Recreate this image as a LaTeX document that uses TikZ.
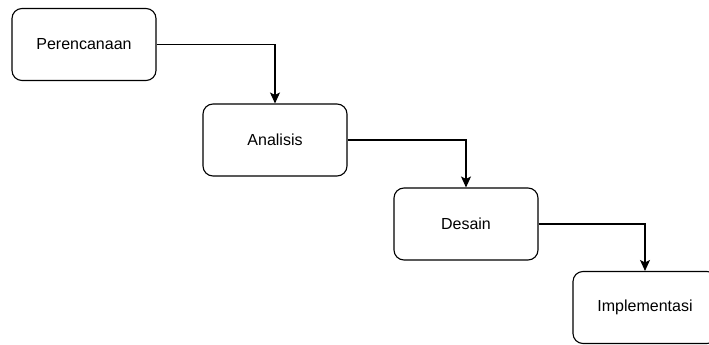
\documentclass[tikz,border=0pt]{standalone}
\usepackage{fontspec}
\setmainfont{Liberation Sans}
\usetikzlibrary{arrows.meta}

\begin{document}
\begin{tikzpicture}[x=1pt, y=-1pt,
    stage/.style={draw, line width=1.1pt, rounded corners=10pt,
      minimum width=144pt, minimum height=72pt,
      font=\fontsize{16}{19}\selectfont},
    flow/.style={draw, line width=1.1pt, -{Stealth[length=11pt, width=10pt, inset=2.5pt]}}]
        \clip (0, 0) rectangle (709, 345);
        \node[stage] (plan) at (84, 44.5) {Perencanaan};
        \node[stage] (anal) at (275, 140) {Analisis};
        \node[stage] (desn) at (466, 224) {Desain};
        \node[stage] (impl) at (645, 307.5) {Implementasi};
        % alur air terjun
        \draw [flow] (plan.east) -| (anal.north);
        \draw [flow] (anal.east) -| (desn.north);
        \draw [flow] (desn.east) -| (impl.north);
      \end{tikzpicture}
\end{document}
